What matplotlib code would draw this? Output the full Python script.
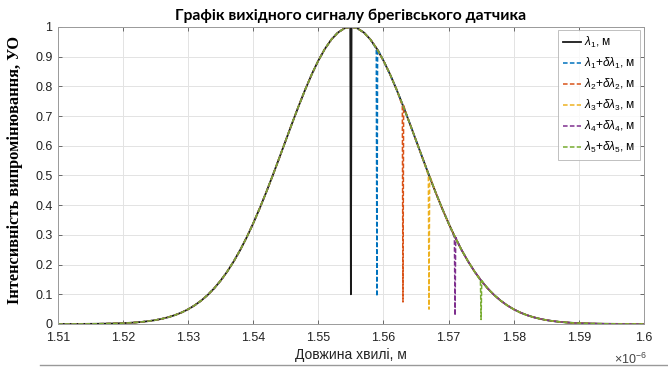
import numpy as np
import matplotlib.pyplot as plt
from matplotlib.lines import Line2D

# envelope of the spectrum, wavelength in units of 1e-6 m
env_x = [1.510, 1.511, 1.512, 1.513, 1.514, 1.515, 1.516, 1.517, 1.518, 1.519,
         1.520, 1.521, 1.522, 1.523, 1.524, 1.525, 1.526, 1.527, 1.528, 1.529,
         1.530, 1.531, 1.532, 1.533, 1.534, 1.535, 1.536, 1.537, 1.538, 1.539,
         1.540, 1.541, 1.542, 1.543, 1.544, 1.545, 1.546, 1.547, 1.548, 1.549,
         1.550, 1.551, 1.552, 1.553, 1.554, 1.555, 1.556, 1.557, 1.558, 1.559,
         1.560, 1.561, 1.562, 1.563, 1.564, 1.565, 1.566, 1.567, 1.568, 1.569,
         1.570, 1.571, 1.572, 1.573, 1.574, 1.575, 1.576, 1.577, 1.578, 1.579,
         1.580, 1.581, 1.582, 1.583, 1.584, 1.585, 1.586, 1.587, 1.588, 1.589,
         1.590, 1.591, 1.592, 1.593, 1.594, 1.595, 1.596, 1.597, 1.598, 1.599,
         1.600]
env_y = [0.0001, 0.0001, 0.0001, 0.0002, 0.0003, 0.0005, 0.0007, 0.0010, 0.0014, 0.0020,
         0.0028, 0.0039, 0.0053, 0.0073, 0.0099, 0.0132, 0.0176, 0.0231, 0.0301, 0.0388,
         0.0496, 0.0628, 0.0787, 0.0977, 0.1201, 0.1463, 0.1764, 0.2108, 0.2493, 0.2922,
         0.3391, 0.3899, 0.4439, 0.5006, 0.5591, 0.6184, 0.6776, 0.7352, 0.7902, 0.8411,
         0.8868, 0.9260, 0.9577, 0.9810, 0.9952, 1.0000, 0.9952, 0.9810, 0.9577, 0.9260,
         0.8868, 0.8411, 0.7902, 0.7352, 0.6776, 0.6184, 0.5591, 0.5006, 0.4439, 0.3899,
         0.3391, 0.2922, 0.2493, 0.2108, 0.1764, 0.1463, 0.1201, 0.0977, 0.0787, 0.0628,
         0.0496, 0.0388, 0.0301, 0.0231, 0.0176, 0.0132, 0.0099, 0.0073, 0.0053, 0.0039,
         0.0028, 0.0020, 0.0014, 0.0010, 0.0007, 0.0005, 0.0003, 0.0002, 0.0001, 0.0001,
         0.0001]

# notch of each series
dip_x = [1.555, 1.559, 1.563, 1.567, 1.571, 1.575]
dip_top = [1.0, 0.926, 0.735, 0.50, 0.292, 0.146]
dip_bottom = [0.10, 0.093, 0.074, 0.050, 0.029, 0.015]

labels = [r'$\lambda_1$, м',
          r'$\lambda_1$+$\delta\lambda_1$, м',
          r'$\lambda_2$+$\delta\lambda_2$, м',
          r'$\lambda_3$+$\delta\lambda_3$, м',
          r'$\lambda_4$+$\delta\lambda_4$, м',
          r'$\lambda_5$+$\delta\lambda_5$, м']
colors = ['#1a1a1a', '#0072bd', '#d95319', '#edb120', '#7e2f8e', '#77ac30']

xticks = [1.51, 1.52, 1.53, 1.54, 1.55, 1.56, 1.57, 1.58, 1.59, 1.6]
xticklabels = ['1.51', '1.52', '1.53', '1.54', '1.55', '1.56', '1.57', '1.58', '1.59', '1.6']
yticks = [0, 0.1, 0.2, 0.3, 0.4, 0.5, 0.6, 0.7, 0.8, 0.9, 1]
yticklabels = ['0', '0.1', '0.2', '0.3', '0.4', '0.5', '0.6', '0.7', '0.8', '0.9', '1']

plt.rcParams['font.family'] = ['Liberation Sans', 'DejaVu Sans']
plt.rcParams['mathtext.fontset'] = 'custom'
plt.rcParams['mathtext.rm'] = 'Liberation Sans'
plt.rcParams['mathtext.it'] = 'Liberation Sans:italic'

fig = plt.figure(figsize=(6.68, 3.69), dpi=100)
ax = fig.add_axes([0.0868, 0.122, 0.877, 0.805])

w = 0.0001
for i in range(len(dip_x)):
    c = dip_x[i]
    keep = [j for j in range(len(env_x)) if abs(env_x[j] - c) > 1e-9]
    x = np.concatenate([np.array(env_x)[keep], [c - w, c, c + w]])
    y = np.concatenate([np.array(env_y)[keep], [dip_top[i], dip_bottom[i], dip_top[i]]])
    o = np.argsort(x)
    if i == 0:
        ax.plot(x[o], y[o], color=colors[i], lw=1.3, label=labels[i])
    else:
        ax.plot(x[o], y[o], color=colors[i], lw=1.1, ls='--', dashes=(3, 1.5), label=labels[i])

ax.set_xlim(1.51, 1.6)
ax.set_ylim(0, 1)
ax.set_xticks(xticks)
ax.set_xticklabels(xticklabels)
ax.set_yticks(yticks)
ax.set_yticklabels(yticklabels)
ax.tick_params(direction='in', length=3, width=0.6, top=True, right=True,
               labelsize=9, colors='#555555', labelcolor='#222222')
ax.tick_params(axis='x', pad=6)
ax.tick_params(axis='y', pad=4)
ax.grid(True, color='#e3e3e3', lw=0.7)
ax.set_axisbelow(True)
for s in ax.spines.values():
    s.set_color('#9a9a9a')
    s.set_linewidth(0.7)

ax.set_title('Графік вихідного сигналу брегівського датчика', fontsize=11.3,
             fontweight='bold', family=['Lato', 'DejaVu Sans'], pad=5)
ax.set_xlabel('Довжина хвилі, м', fontsize=10, color='#222222', labelpad=3)
ax.set_ylabel('Інтенсивність випромінювання, УО', fontsize=11.8, fontweight='bold',
              family=['Liberation Serif', 'DejaVu Serif'])
ax.yaxis.set_label_coords(-0.06, 0.52)
ax.text(1.005, -0.095, r'$\times10^{-6}$', transform=ax.transAxes, ha='right', va='top',
        fontsize=9, color='#444444')

leg = ax.legend(loc='upper right', fontsize=8.5, frameon=True, fancybox=False,
                borderaxespad=0.3, handlelength=1.5, handletextpad=0.3,
                labelspacing=0.5, borderpad=0.4)
leg.get_frame().set_edgecolor('#b0b0b0')
leg.get_frame().set_linewidth(0.7)

fig.add_artist(Line2D([0.06, 1.0], [0.011, 0.011], color='#999999', lw=1))

fig.savefig('out.png', dpi=100)
